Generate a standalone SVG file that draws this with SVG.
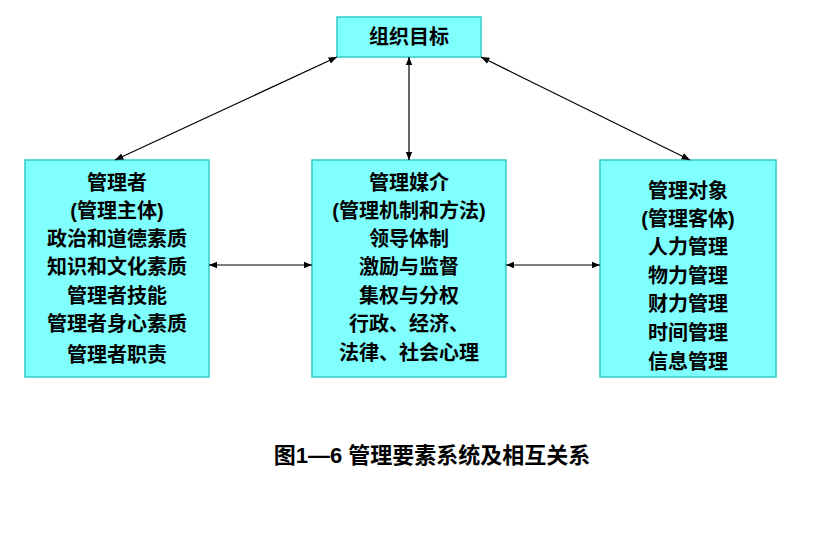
<svg xmlns="http://www.w3.org/2000/svg" width="816" height="538" viewBox="0 0 816 538">
<defs>
<marker id="a" viewBox="0 0 10 10" refX="10" refY="5" markerWidth="7" markerHeight="7" orient="auto-start-reverse"><path d="M0,1 L10,5 L0,9 z" fill="#000"/></marker>
<style>
.b{fill:#80FFFF;stroke:#33CCCC;stroke-width:1.5}
.t{font-family:"Liberation Sans","Noto Sans CJK SC",sans-serif;font-weight:bold;font-size:20px;text-anchor:middle;fill:#000}
.c{stroke:#000;stroke-width:1.2;marker-start:url(#a);marker-end:url(#a);fill:none}
</style>
</defs>
<rect width="816" height="538" fill="#fff"/>
<g id="top"><rect class="b" x="337" y="17" width="144" height="40"/><text class="t" x="409" y="44">组织目标</text></g>
<g id="left"><rect class="b" x="25" y="160" width="184" height="217"/>
<text class="t" x="117" y="190">管理者</text><text class="t" x="117" y="218">(管理主体)</text><text class="t" x="117" y="246">政治和道德素质</text><text class="t" x="117" y="274">知识和文化素质</text><text class="t" x="117" y="303">管理者技能</text><text class="t" x="117" y="331">管理者身心素质</text><text class="t" x="117" y="362">管理者职责</text></g>
<g id="mid"><rect class="b" x="312" y="160" width="194" height="217"/>
<text class="t" x="409" y="190">管理媒介</text><text class="t" x="409" y="218">(管理机制和方法)</text><text class="t" x="409" y="246">领导体制</text><text class="t" x="409" y="274">激励与监督</text><text class="t" x="409" y="303">集权与分权</text><text class="t" x="409" y="331">行政、经济、</text><text class="t" x="409" y="360">法律、社会心理</text></g>
<g id="right"><rect class="b" x="600" y="160" width="176" height="217"/>
<text class="t" x="688" y="198">管理对象</text><text class="t" x="688" y="226">(管理客体)</text><text class="t" x="688" y="254">人力管理</text><text class="t" x="688" y="283">物力管理</text><text class="t" x="688" y="311">财力管理</text><text class="t" x="688" y="340">时间管理</text><text class="t" x="688" y="369">信息管理</text></g>
<g id="connectors">
<line class="c" x1="337" y1="57" x2="115" y2="160"/>
<line class="c" x1="409" y1="57" x2="409" y2="160"/>
<line class="c" x1="481" y1="57" x2="690" y2="160"/>
<line class="c" x1="209" y1="265" x2="312" y2="265"/>
<line class="c" x1="506" y1="265" x2="600" y2="265"/>
</g>
<text class="t" x="432" y="463" style="font-size:22px">图1—6  管理要素系统及相互关系</text>
</svg>
